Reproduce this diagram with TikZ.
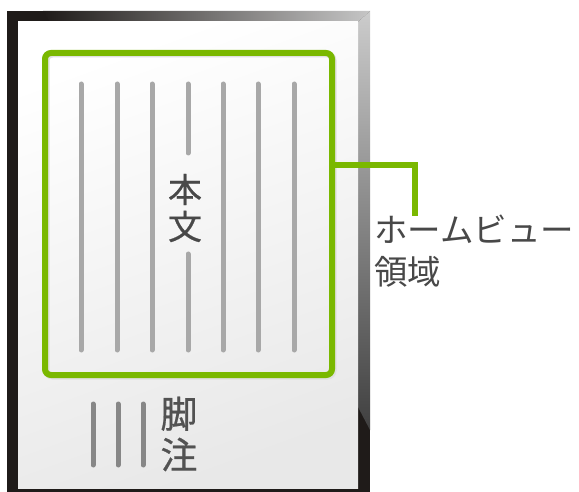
\documentclass[tikz,border=0pt]{standalone}
\usepackage{fontspec}
\newfontfamily\jp{Noto Sans CJK JP}
\newfontfamily\jpb[FakeBold=0.6]{Noto Sans CJK JP}
\definecolor{hvgreen}{RGB}{122,184,0}
\definecolor{framedark}{RGB}{31,27,25}
\definecolor{txtgray}{RGB}{72,72,72}
\definecolor{linegray}{RGB}{168,168,168}
\definecolor{footgray}{RGB}{135,135,135}
\begin{document}
\begin{tikzpicture}[x=1pt,y=-1pt,
  textline/.style={line width=5pt,line cap=round,draw=linegray},
  footline/.style={line width=5pt,line cap=round,draw=footgray},
  greenline/.style={line width=6pt,draw=hvgreen},
  label/.style={inner sep=0pt,text=txtgray,font=\jp}]
\useasboundingbox (0,0) rectangle (579,492);
% device frame
\fill[framedark] (7,11) rectangle (370,492);
\shade[left color=framedark,right color=gray!45] (43,11) -- (370,11) -- (358,22) -- (50,22) -- cycle;
\shade[top color=gray!40,bottom color=black!75] (358,22) -- (370,11) -- (370,430) -- (358,407) -- cycle;
% page
\shade[top color=white,bottom color=black!9,shading angle=20] (18,22) rectangle (358,488);
% body lines
\foreach \x in {81,117,152,223,258,294}
  \draw[textline] (\x,84) -- (\x,350);
\draw[textline] (188,84) -- (188,153);
\draw[textline] (188,254) -- (188,350);
\node[label,align=center,font=\jpb\fontsize{34}{37}\selectfont] (honbun) at (185,208) {本\\文};
% footnote
\foreach \x in {93,118,143}
  \draw[footline] (\x,404) -- (\x,465);
\node[label,align=center,font=\jpb\fontsize{37}{41}\selectfont,text=black!68] (kyakuchu) at (179,434) {脚\\注};
% home view area
\draw[line width=6pt,draw=black!12,rounded corners=6pt] (46.5,54.5) rectangle (333.5,376.5);
\node[greenline,rounded corners=6pt,minimum width=287pt,minimum height=322pt,inner sep=0pt] (home) at (188.5,214) {};
\coordinate (bend) at (415,165);
\coordinate (tip) at (415,213);
\draw[greenline] (home.east |- bend) -- (bend) -- ([yshift=-3pt]tip);
\node[label,anchor=north west,align=left,font=\jp\fontsize{33.5}{42}\selectfont] (hvlabel) at (374,215) {ホームビュー\\領域};
\end{tikzpicture}
\end{document}
